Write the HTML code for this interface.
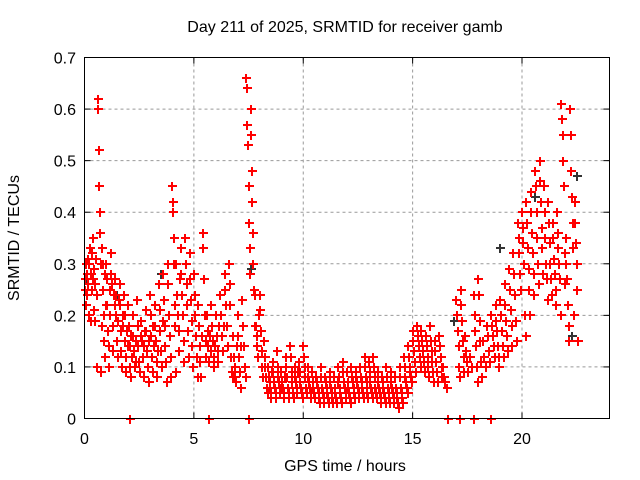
<!DOCTYPE html>
<html><head><meta charset="utf-8"><style>
body{margin:0;background:#fff}
svg{display:block;font-family:"Liberation Sans",sans-serif;font-size:16px}
</style></head><body>
<svg id="chart" width="640" height="480">
<text x="345" y="32" text-anchor="middle">Day 211 of 2025, SRMTID for receiver gamb</text>
<text x="345" y="471" text-anchor="middle">GPS time / hours</text>
<text transform="translate(19,238) rotate(-90)" text-anchor="middle">SRMTID / TECUs</text>
<g id="grid"></g><g id="ticks"></g><g id="marks" shape-rendering="crispEdges"></g>
<rect x="84.5" y="57.5" width="525" height="361" fill="none" stroke="#000"/>
</svg>
<script>
const xTicks=[0,5,10,15,20];
const yTicks=[0,0.1,0.2,0.3,0.4,0.5,0.6,0.7];
const binStart=0, binWidth=0.2;
const redBins=[
[.27,.25,.3,.22,.28,.24,.31,.26],[.3,.2,.33,.28,.19,.25,.32,.27],[.35,.29,.21,.26,.19,.31,.24,.1],
[.62,.6,.52,.45,.4,.36,.3,.09,.18],[.33,.3,.25,.2,.15,.12,.28,.22],[.3,.27,.22,.17,.14,.1,.25,.2],
[.32,.28,.26,.18,.13,.24,.22],[.27,.24,.2,.15,.12,.19,.23],[.26,.22,.17,.13,.1,.2,.18],
[.24,.2,.15,.12,.09,.17,.14],[.22,.18,.14,.1,.08,.16,.12],[.2,.16,.13,.1,.15,.11],
[.23,.18,.14,.11,.09,.16],[.19,.15,.12,.08,.14,.17],[.21,.17,.13,.1,.07,.15],
[.24,.2,.16,.12,.09,.18,.14],[.22,.18,.15,.11,.08,.13],[.26,.21,.17,.13,.1,.19],
[.28,.23,.18,.14,.11,.07],[.3,.26,.2,.16,.12,.08],[.45,.42,.4,.35,.3,.22,.18,.09],
[.3,.24,.2,.17,.13,.27],[.33,.28,.24,.2,.15,.11],[.35,.3,.26,.22,.17,.12],
[.32,.27,.23,.19,.14,.1],[.28,.24,.2,.16,.12,.08],[.22,.18,.14,.11,.08,.16],
[.36,.33,.27,.2,.15,.12],[.2,.17,.14,.11,.16,.13],[.22,.18,.15,.12,.1,.14],
[.2,.16,.13,.11,.18],[.24,.2,.16,.13,.18],[.28,.25,.22,.18,.14],
[.3,.26,.22,.12,.09,.08],[.16,.12,.1,.08,.07,.14],[.2,.16,.12,.09,.06,.14],
[.23,.18,.14,.1,.08],[.66,.64,.57,.53,.45,.38,.33,.28],[.6,.55,.48,.42,.36,.3,.25,.18],
[.24,.18,.16,.14,.12,.2],[.24,.21,.17,.13,.1,.08],[.15,.12,.1,.08,.06,.05],
[.1,.08,.07,.06,.05,.04,.09],[.11,.09,.07,.06,.05,.04],[.13,.1,.08,.07,.05,.06],
[.09,.07,.06,.05,.04,.08],[.12,.1,.08,.06,.05,.04],[.14,.12,.09,.07,.05,.04],
[.1,.08,.07,.06,.05,.09],[.11,.09,.07,.06,.05,.04],[.14,.12,.1,.08,.06,.05],
[.1,.08,.07,.06,.05,.04],[.09,.07,.06,.05,.04,.08],[.08,.07,.06,.05,.04,.03],
[.1,.08,.06,.05,.04,.03],[.08,.07,.06,.05,.04,.03],[.09,.07,.06,.05,.04,.03],
[.08,.06,.05,.04,.03,.07],[.1,.08,.06,.05,.04,.03],[.11,.09,.07,.06,.05,.04],
[.09,.07,.06,.05,.04,.03],[.1,.08,.07,.06,.05,.04],[.09,.08,.07,.06,.05,.04],
[.1,.08,.07,.06,.05,.04],[.12,.1,.08,.07,.05,.04],[.11,.09,.07,.06,.05,.04],
[.12,.1,.08,.06,.05,.04],[.09,.07,.06,.05,.04,.03],[.08,.07,.06,.05,.04,.03],
[.1,.08,.06,.05,.04,.03],[.09,.07,.06,.05,.04,.03],[.08,.06,.05,.04,.03,.02],
[.1,.08,.06,.05,.04,.03],[.12,.1,.08,.07,.06,.05],[.14,.12,.1,.09,.08,.07],
[.17,.15,.13,.11,.09],[.18,.16,.14,.12,.1],[.17,.15,.13,.11,.09],
[.16,.14,.12,.1,.08],[.18,.15,.13,.11,.09,.07],[.15,.13,.11,.09,.07],
[.16,.14,.12,.1,.08],[.1,.08,.07,.06],[],[],
[.23,.2,.17,.14,.1,.08],[.25,.22,.19,.15,.12,.09],[.16,.13,.11,.09],[.12,.1],
[.24,.2,.17,.14,.1,.07],[.27,.24,.19,.15,.11,.08],[.15,.12,.1],[.18,.16,.13,.11],
[.2,.18,.16,.14,.12],[.22,.19,.17,.14,.12,.1],[.23,.2,.17,.14,.12],[.26,.22,.19,.16,.13],
[.29,.25,.21,.18,.14],[.32,.28,.24,.19,.15],[.38,.35,.32,.28,.25],[.4,.37,.34,.3,.2,.16],
[.42,.38,.33,.29,.25,.2],[.44,.4,.36,.32,.28,.24],[.48,.45,.4,.35,.3,.26],[.5,.46,.42,.37,.33,.28],
[.45,.4,.35,.3,.27,.23],[.42,.38,.34,.3,.27,.24],[.38,.35,.31,.28,.25,.22],[.4,.36,.33,.3,.27,.2],
[.61,.58,.55,.5,.45,.32,.26],[.35,.3,.27,.22,.18,.15],[.6,.55,.48,.43,.38,.33,.2],[.42,.38,.34,.3,.25,.15]
];
const blackTimes=[0.1,0.6,1.5,3.5,5.4,7.5,7.6,16.9,19.0,20.6,21.8,22.3,22.5];
const blackVals=[0.27,0.62,0.24,0.28,0.36,0.38,0.29,0.19,0.33,0.43,0.61,0.16,0.47];
const zeroTimes=[2.1,5.7,7.5,16.6,17.15,17.8,18.6];
const X0=84.5,X1=609.5,Y0=418.5,Y1=57.5;
const xs=t=>X0+t/24*(X1-X0), ys=v=>Y0-v/0.7*(Y0-Y1);
const NS="http://www.w3.org/2000/svg";
const g=document.getElementById('grid'),tk=document.getElementById('ticks'),mk=document.getElementById('marks');
function mkEl(tag,attrs,parent){const e=document.createElementNS(NS,tag);for(const k in attrs)e.setAttribute(k,attrs[k]);parent.appendChild(e);return e;}
xTicks.forEach(t=>{const x=xs(t);
 if(t>0){const l=mkEl('line',{x1:x,x2:x,y1:Y1,y2:Y0,stroke:'#999','stroke-dasharray':'3,3'},g);
 
 }
 const a=mkEl('line',{x1:x,x2:x,y1:Y0,y2:Y0-6,stroke:'#000'},tk);
 const b=mkEl('line',{x1:x,x2:x,y1:Y1,y2:Y1+6,stroke:'#000'},tk);
 const tx=mkEl('text',{x:x,y:444,'text-anchor':'middle'},tk);tx.textContent=t;
 
 });
yTicks.forEach(v=>{const y=ys(v);
 if(v>0&&v<0.7){const l=mkEl('line',{x1:X0,x2:X1,y1:y,y2:y,stroke:'#999','stroke-dasharray':'3,3'},g);
 
 }
 const a=mkEl('line',{x1:X0,x2:X0+6,y1:y,y2:y,stroke:'#000'},tk);
 const b=mkEl('line',{x1:X1,x2:X1-6,y1:y,y2:y,stroke:'#000'},tk);
 const tx=mkEl('text',{x:76,y:y+6,'text-anchor':'end'},tk);tx.textContent=v===0?'0':v.toFixed(1);
 
 });
function plus(t,v,col,name){const x=Math.round(xs(t)),y=Math.round(ys(v));
 const p=mkEl('path',{d:`M${x-4} ${y}H${x+5}M${x} ${y-4}V${y+5}`,stroke:col,'stroke-width':1.6,fill:'none'},mk);
 
 }
blackTimes.forEach((t,i)=>plus(t,blackVals[i],'#333','srmtid-alt-point'));
redBins.forEach((vals,i)=>{vals.forEach((v,j)=>{const t=binStart+i*binWidth+binWidth*j/vals.length;plus(t,v,'#ff0000','srmtid-point');});});
zeroTimes.forEach(t=>plus(t,0,'#ff0000','zero-point'));
</script>
</body></html>
